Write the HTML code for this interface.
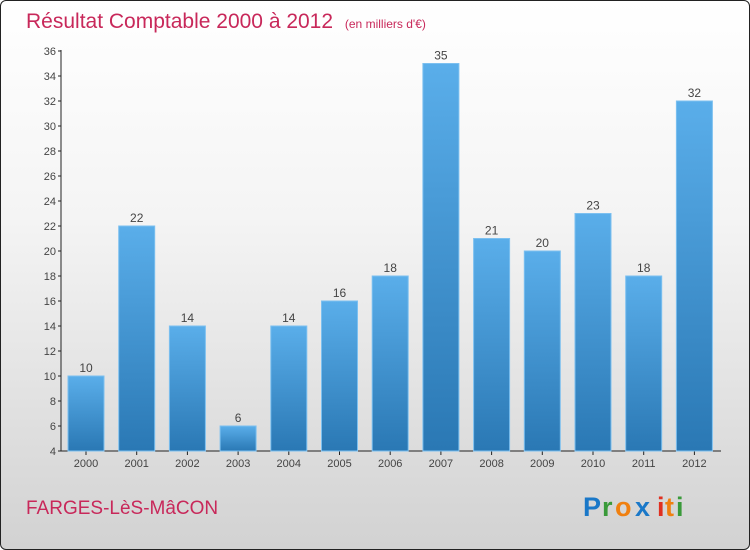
<!DOCTYPE html>
<html><head><meta charset="utf-8"><style>
body{margin:0}
#c{position:relative;width:748px;height:548px;border:1px solid #222;border-radius:6px;overflow:hidden;background:linear-gradient(#ffffff 0%,#f4f4f4 40%,#d2d2d2 100%);font-family:"Liberation Sans",sans-serif}
</style></head><body>
<div id="c">
<svg width="748" height="548">
<defs><linearGradient id="bg" x1="0" y1="0" x2="0" y2="1"><stop offset="0" stop-color="#5aaeea"/><stop offset="1" stop-color="#2a78b4"/></linearGradient></defs>
<text x="25" y="27" font-size="21" fill="#c8285a">Résultat Comptable 2000 à 2012 <tspan font-size="12" dx="6">(en milliers d'€)</tspan></text>
<g id="axes"></g><g id="bars"></g>
<text x="25" y="513" font-size="19" fill="#c8285a">FARGES-LèS-MâCON</text>
<g font-size="27" font-weight="bold" font-family="Liberation Sans,sans-serif">
<text x="582" y="515" fill="#1a78c8">P</text><text x="601" y="515" fill="#3a9a3a">r</text><text x="614" y="515" fill="#f08010">o</text><text x="634" y="515" fill="#1a78c8">x</text><text x="656" y="515" fill="#e03020">i</text><text x="664" y="515" fill="#f08010">t</text><text x="675" y="515" fill="#3a9a3a">i</text></g>
</svg></div>
<script>
const years=["2000","2001","2002","2003","2004","2005","2006","2007","2008","2009","2010","2011","2012"];
const values=[10,22,14,6,14,16,18,35,21,20,23,18,32];
const yTicks=[4,6,8,10,12,14,16,18,20,22,24,26,28,30,32,34,36];
const ns="http://www.w3.org/2000/svg";
const y=v=>450-(v-4)*(400/32);
const x=i=>85+i*50.7;
const ax=document.getElementById('axes'),bs=document.getElementById('bars');
function mk(t,a,p){const e=document.createElementNS(ns,t);for(const k in a)e.setAttribute(k,a[k]);p.appendChild(e);return e;}
const yl=mk('line',{x1:60,y1:49,x2:60,y2:450,stroke:'#222'},ax);


const xl=mk('line',{x1:60,y1:450,x2:720,y2:450,stroke:'#222'},ax);


yTicks.forEach(v=>{
 mk('line',{x1:57,x2:60,y1:y(v),y2:y(v),stroke:'#222'},ax);
 const t=mk('text',{x:55,y:y(v)+4,'font-size':11,fill:'#444','text-anchor':'end'},ax);
 t.textContent=v;
 
 
});
years.forEach((yr,i)=>{
 const v=values[i];
 const r=mk('rect',{x:x(i)-18,y:y(v),width:36,height:450-y(v),fill:'url(#bg)',stroke:'#7cc0f0','stroke-width':1},bs);
 
 
 const l=mk('text',{x:x(i),y:y(v)-4,'font-size':12,fill:'#444','text-anchor':'middle'},bs);
 l.textContent=v;
 
 
 mk('line',{x1:x(i),x2:x(i),y1:450,y2:454,stroke:'#222'},ax);
 const t=mk('text',{x:x(i),y:466,'font-size':11,fill:'#444','text-anchor':'middle'},ax);
 t.textContent=yr;
 
 
});
</script>
</body></html>
